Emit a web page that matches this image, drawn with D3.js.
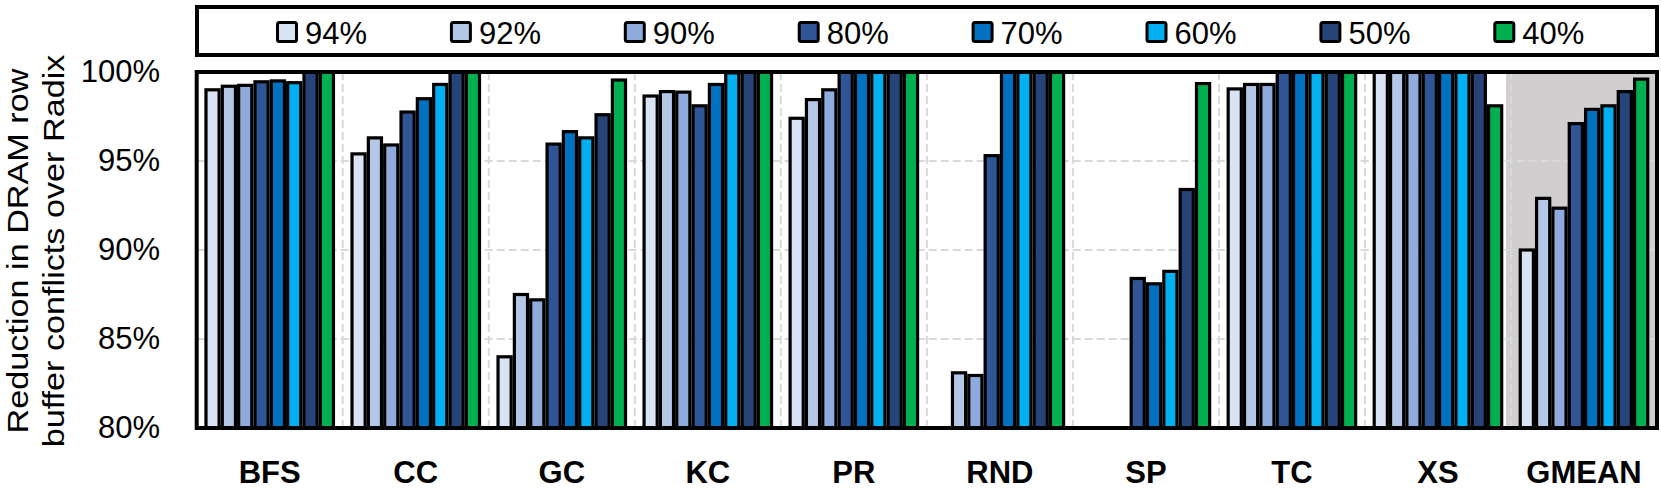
<!DOCTYPE html>
<html><head><meta charset="utf-8">
<script src="https://cdn.jsdelivr.net/npm/d3@7/dist/d3.min.js"></script>
<style>
body{margin:0;background:#fff}
svg{display:block}
text{font-family:'Liberation Sans',Arial,sans-serif;fill:#000}
</style>
</head><body>
<svg id="c" width="1661" height="491"></svg>
<script>
// ---- data ----
const categories = ["BFS","CC","GC","KC","PR","RND","SP","TC","XS","GMEAN"];
const seriesNames = ["94%","92%","90%","80%","70%","60%","50%","40%"];
const s94 = [99.0, 95.4, 84.0, 98.65, 97.4, null, null, 99.05, 100, 90.0];
const s92 = [99.2, 96.3, 87.5, 98.9, 98.45, 83.1, null, 99.3, 100, 92.9];
const s90 = [99.25, 95.9, 87.2, 98.87, 99.0, 82.95, null, 99.3, 100, 92.35];
const s80 = [99.45, 97.75, 95.95, 98.1, 100, 95.3, 88.4, 100, 100, 97.1];
const s70 = [99.5, 98.5, 96.65, 99.3, 100, 100, 88.1, 100, 100, 97.9];
const s60 = [99.4, 99.3, 96.3, 99.95, 100, 100, 88.8, 100, 100, 98.1];
const s50 = [100, 100, 97.6, 100, 100, 100, 93.4, 100, 100, 98.9];
const s40 = [100, 100, 99.55, 100, 100, 100, 99.35, 100, 98.1, 99.6];
const seriesValues = [s94, s92, s90, s80, s70, s60, s50, s40];
const colors = ["#DAE3F3","#B4C7E7","#8FAADC","#2F5597","#0070C0","#00B0F0","#264478","#00B050"];
const yTicks = [80, 85, 90, 95, 100];
const yTickLabels = ["80%","85%","90%","95%","100%"];
const yTitle = ["Reduction in DRAM row", "buffer conflicts over Radix"];
const highlightCategory = "GMEAN";

// ---- layout ----
const svg = d3.select("#c");
const m = {left: 196.7, right: 1657, top: 72, bottom: 428};
const x0 = d3.scaleBand().domain(categories).range([m.left, m.right]).paddingInner(0).paddingOuter(0);
const x1 = d3.scaleBand().domain(seriesNames).range([0, x0.bandwidth()]).paddingOuter(0.47).paddingInner(0);
const y = d3.scaleLinear().domain([80, 100]).range([m.bottom, m.top]);
const color = d3.scaleOrdinal().domain(seriesNames).range(colors);

// highlight background for GMEAN
svg.append("rect")
  .attr("x", x0(highlightCategory) - 5)
  .attr("y", m.top)
  .attr("width", m.right - x0(highlightCategory) + 5)
  .attr("height", m.bottom - m.top)
  .attr("fill", "#D0CECE");

// grid lines
const grid = svg.append("g").attr("stroke", "#D9D9D9").attr("stroke-width", 2).attr("stroke-dasharray", "8,4");
grid.selectAll("line.h").data(yTicks.filter(t => t > 80 && t < 100)).join("line")
  .attr("x1", m.left).attr("x2", m.right)
  .attr("y1", d => y(d)).attr("y2", d => y(d));
grid.selectAll("line.v").data(categories.slice(1)).join("line")
  .attr("x1", d => x0(d)).attr("x2", d => x0(d))
  .attr("y1", m.top).attr("y2", m.bottom);

// bars
const rows = [];
categories.forEach((c, ci) => {
  seriesNames.forEach((s, si) => {
    const v = seriesValues[si][ci];
    if (v != null) rows.push({c, s, v});
  });
});
svg.append("g").selectAll("rect").data(rows).join("rect")
  .attr("x", d => x0(d.c) + x1(d.s) + 1.6)
  .attr("width", x1.bandwidth() - 3.2)
  .attr("y", d => y(d.v))
  .attr("height", d => y(80) - y(d.v))
  .attr("fill", d => color(d.s))
  .attr("stroke", "#000")
  .attr("stroke-width", 3.2);

// frame
svg.append("rect")
  .attr("x", m.left).attr("y", m.top)
  .attr("width", m.right - m.left).attr("height", m.bottom - m.top)
  .attr("fill", "none").attr("stroke", "#000").attr("stroke-width", 4);

// y axis labels
const yAxis = d3.axisLeft(y).tickValues(yTicks).tickFormat((d, i) => yTickLabels[i]).tickSize(0).tickPadding(0);
const gy = svg.append("g").attr("transform", `translate(160,0)`).call(yAxis);
gy.select(".domain").remove();
gy.selectAll("text").style("font-size", "31px").style("font-family", "'Liberation Sans',Arial,sans-serif").attr("fill", "#000");

// x axis labels
const xAxis = d3.axisBottom(x0).tickSize(0).tickPadding(0);
const gx = svg.append("g").attr("transform", `translate(0,${m.bottom})`).call(xAxis);
gx.select(".domain").remove();
gx.selectAll("text").style("font-size", "31px").style("font-weight", "bold")
  .style("font-family", "'Liberation Sans',Arial,sans-serif").attr("fill", "#000")
  .attr("dy", null).attr("y", 55);

// y title
const titleScale = 1.14;
const yt = svg.append("text").attr("transform", `rotate(-90) scale(${titleScale},1)`).style("font-size", "30px").attr("text-anchor", "middle");
yt.selectAll("tspan").data(yTitle).join("tspan")
  .attr("x", -251 / titleScale).attr("y", (d, i) => i === 0 ? 28 : 64).text(d => d);

// legend
svg.append("rect").attr("x", 197).attr("y", 7).attr("width", 1460).attr("height", 48)
  .attr("fill", "#fff").attr("stroke", "#000").attr("stroke-width", 4);
const lg = svg.append("g").selectAll("g").data(seriesNames).join("g")
  .attr("transform", (d, i) => `translate(${276 + i * 173.9},0)`);
lg.append("rect").attr("x", 1.5).attr("y", 22.5).attr("width", 19).attr("height", 19).attr("rx", 2)
  .attr("fill", d => color(d)).attr("stroke", "#000").attr("stroke-width", 3);
lg.append("text").attr("x", 29).attr("y", 43.5).style("font-size", "31px").text(d => d);
</script>
</body></html>
